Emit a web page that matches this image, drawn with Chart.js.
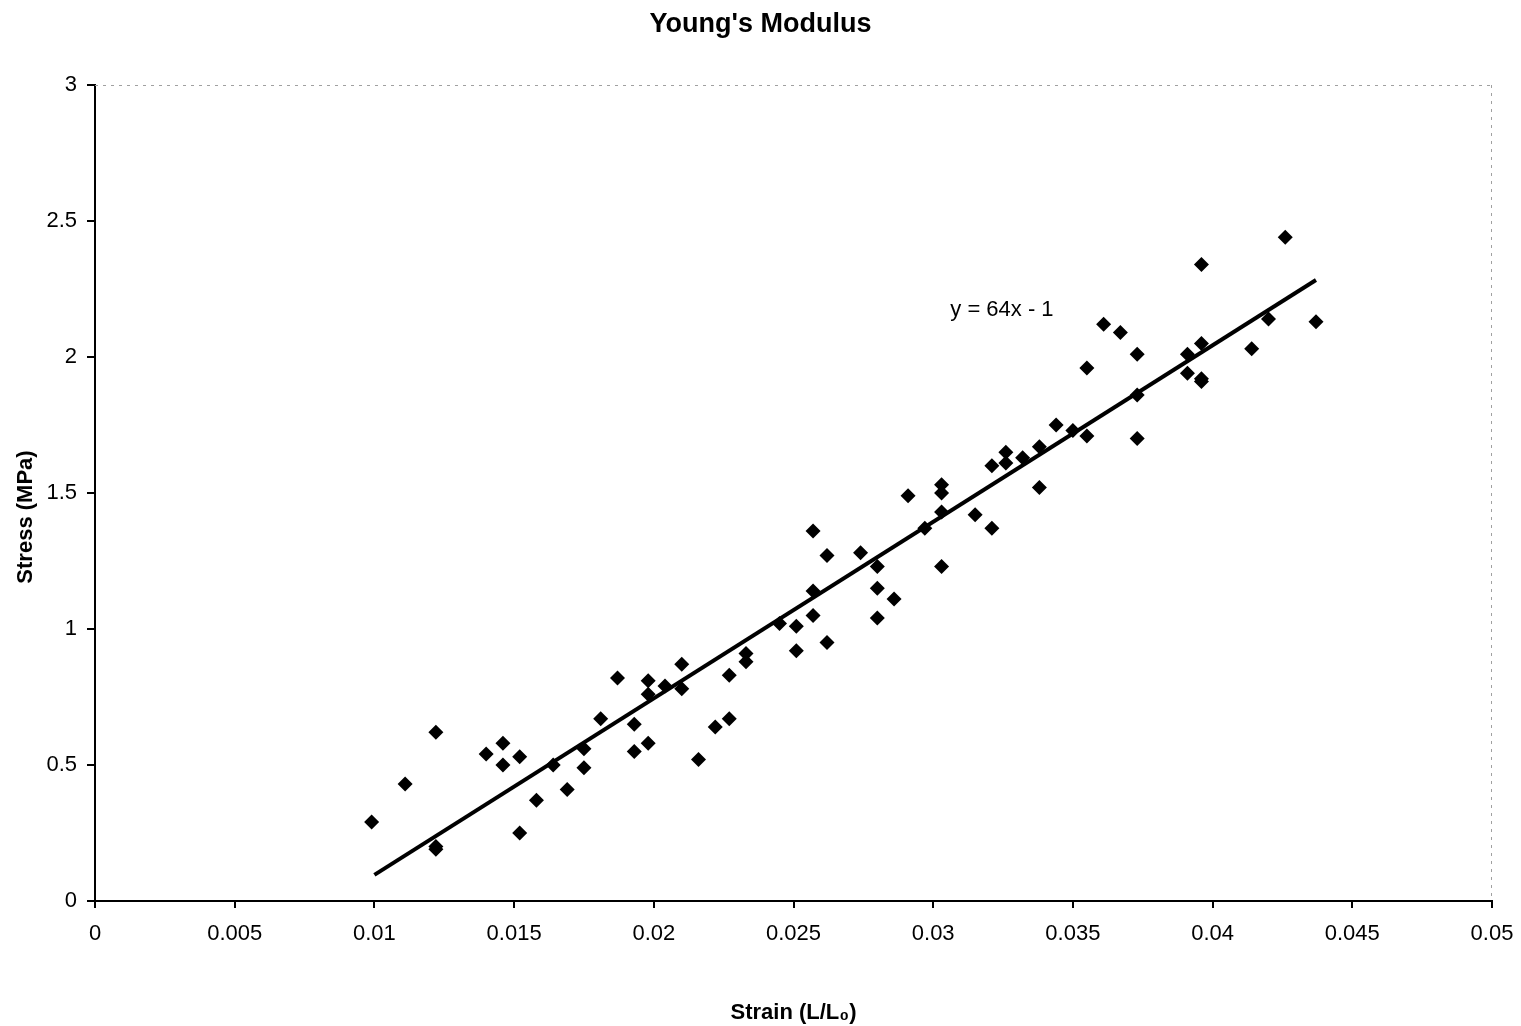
<!DOCTYPE html>
<html>
<head>
<meta charset="utf-8">
<title>Young's Modulus</title>
<script src="https://cdn.jsdelivr.net/npm/chart.js@4.4.1/dist/chart.umd.min.js"></script>
<style>
    body { margin: 0; background: #fff; }
    canvas { display: block; }
</style>
</head>
<body>
<canvas id="youngChart" width="1521" height="1026"></canvas>
<script>
const strain = [
    0.0099, 0.0111, 0.0122, 0.0122, 0.0122, 0.0140, 0.0146, 0.0146, 0.0152, 0.0152,
    0.0158, 0.0164, 0.0169, 0.0175, 0.0175, 0.0181, 0.0187, 0.0193, 0.0193, 0.0198,
    0.0198, 0.0198, 0.0204, 0.0210, 0.0210, 0.0216, 0.0222, 0.0227, 0.0227, 0.0233,
    0.0233, 0.0245, 0.0251, 0.0251, 0.0257, 0.0257, 0.0257, 0.0262, 0.0262, 0.0274,
    0.0280, 0.0280, 0.0280, 0.0286, 0.0291, 0.0297, 0.0303, 0.0303, 0.0303, 0.0303,
    0.0315, 0.0321, 0.0321, 0.0326, 0.0326, 0.0332, 0.0338, 0.0338, 0.0344, 0.0350,
    0.0355, 0.0355, 0.0361, 0.0367, 0.0373, 0.0373, 0.0373, 0.0391, 0.0391, 0.0396,
    0.0396, 0.0396, 0.0396, 0.0414, 0.0420, 0.0426, 0.0437
];
const stress = [
    0.29, 0.43, 0.62, 0.20, 0.19, 0.54, 0.58, 0.50, 0.53, 0.25,
    0.37, 0.50, 0.41, 0.56, 0.49, 0.67, 0.82, 0.65, 0.55, 0.81,
    0.76, 0.58, 0.79, 0.87, 0.78, 0.52, 0.64, 0.83, 0.67, 0.91,
    0.88, 1.02, 1.01, 0.92, 1.36, 1.14, 1.05, 1.27, 0.95, 1.28,
    1.23, 1.15, 1.04, 1.11, 1.49, 1.37, 1.53, 1.50, 1.43, 1.23,
    1.42, 1.60, 1.37, 1.65, 1.61, 1.63, 1.67, 1.52, 1.75, 1.73,
    1.71, 1.96, 2.12, 2.09, 2.01, 1.86, 1.70, 2.01, 1.94, 2.05,
    1.92, 1.91, 2.34, 2.03, 2.14, 2.44, 2.13
];

// trendline end points as drawn
const fitStrain = [0.0100, 0.0437];
const fitStress = [0.096, 2.283];
const fitLabel = 'y = 64x - 1';
const fitLabelAt = [0.03246, 2.173];

const xTickLabels = ['0', '0.005', '0.01', '0.015', '0.02', '0.025', '0.03', '0.035', '0.04', '0.045', '0.05'];
const yTickLabels = ['0', '0.5', '1', '1.5', '2', '2.5', '3'];
const yTitle = 'Stress (MPa)';

const FONT = "'Liberation Sans', Arial, sans-serif";

const frameAndLabel = {
    id: 'frameAndLabel',
    afterDraw(chart) {
        const { ctx, chartArea, scales } = chart;
        ctx.save();
        // dotted top and right edges of the plot area
        ctx.strokeStyle = '#a0a0a0';
        ctx.lineWidth = 1;
        ctx.setLineDash([3, 5]);
        ctx.beginPath();
        ctx.moveTo(chartArea.left, chartArea.top + 0.5);
        ctx.lineTo(chartArea.right, chartArea.top + 0.5);
        ctx.moveTo(chartArea.right - 0.5, chartArea.top);
        ctx.lineTo(chartArea.right - 0.5, chartArea.bottom);
        ctx.stroke();
        ctx.setLineDash([]);

        // trendline equation
        ctx.fillStyle = '#000';
        ctx.font = '22px ' + FONT;
        ctx.textAlign = 'center';
        ctx.textBaseline = 'middle';
        ctx.fillText(fitLabel, scales.x.getPixelForValue(fitLabelAt[0]), scales.y.getPixelForValue(fitLabelAt[1]));

        // y axis title, sits a little below the middle in the original
        ctx.font = 'bold 22px ' + FONT;
        ctx.translate(26, (chartArea.top + chartArea.bottom) / 2 + 24);
        ctx.rotate(-Math.PI / 2);
        ctx.fillText(yTitle, 0, 0);
        ctx.restore();
    }
};

const ctx = document.getElementById('youngChart').getContext('2d');
new Chart(ctx, {
    type: 'scatter',
    data: {
        datasets: [{
            label: 'Trend',
            data: fitStrain.map((x, i) => ({ x: x, y: fitStress[i] })),
            showLine: true,
            borderColor: '#000',
            borderWidth: 4,
            pointRadius: 0,
            fill: false
        }, {
            label: 'Stress',
            data: strain.map((x, i) => ({ x: x, y: stress[i] })),
            pointStyle: 'rectRot',
            pointRadius: 7.5,
            backgroundColor: '#000',
            borderWidth: 0
        }]
    },
    options: {
        responsive: false,
        animation: false,
        layout: { padding: 0 },
        plugins: {
            legend: { display: false },
            tooltip: { enabled: false },
            title: {
                display: true,
                text: "Young's Modulus",
                color: '#000',
                font: { family: FONT, size: 27, weight: 'bold' },
                padding: { top: 8, bottom: 44.6 }
            }
        },
        scales: {
            x: {
                type: 'linear',
                min: 0,
                max: 0.05,
                afterFit: scale => {
                    scale.height = 125;
                    scale.paddingRight = 0;
                },
                afterBuildTicks: scale => {
                    scale.ticks = xTickLabels.map(t => ({ value: parseFloat(t) }));
                },
                ticks: {
                    color: '#000',
                    font: { family: FONT, size: 22 },
                    padding: 13,
                    maxRotation: 0,
                    autoSkip: false,
                    callback: (v, i) => xTickLabels[i]
                },
                grid: { drawOnChartArea: false, drawTicks: true, tickLength: 7, color: '#000', lineWidth: 2 },
                border: { display: true, color: '#000', width: 2 },
                title: {
                    display: true,
                    text: 'Strain (L/L\u2080)',
                    color: '#000',
                    font: { family: FONT, size: 22, weight: 'bold' },
                    padding: { top: 46, bottom: 0 }
                }
            },
            y: {
                type: 'linear',
                min: 0,
                max: 3,
                afterFit: scale => { scale.width = 95; },
                afterBuildTicks: scale => {
                    scale.ticks = yTickLabels.map(t => ({ value: parseFloat(t) }));
                },
                ticks: {
                    color: '#000',
                    font: { family: FONT, size: 22 },
                    padding: 10,
                    autoSkip: false,
                    callback: (v, i) => yTickLabels[i]
                },
                grid: { drawOnChartArea: false, drawTicks: true, tickLength: 8, color: '#000', lineWidth: 2 },
                border: { display: true, color: '#000', width: 2 },
                title: { display: false }
            },
            // empty strip that keeps the plot clear of the right edge
            yRight: {
                type: 'linear',
                position: 'right',
                display: true,
                afterFit: scale => { scale.width = 29; },
                ticks: { display: false },
                grid: { display: false },
                border: { display: false }
            }
        }
    },
    plugins: [frameAndLabel]
});
</script>
</body>
</html>
